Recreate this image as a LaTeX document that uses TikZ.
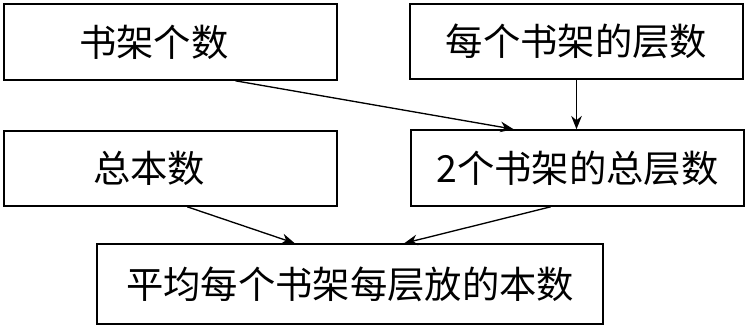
\documentclass[tikz,border=0pt]{standalone}
\usepackage{fontspec}
\newfontfamily\cjk{Noto Sans CJK SC}
\usepackage{tikz}
\usetikzlibrary{arrows.meta,calc}

\begin{document}
\begin{tikzpicture}[
    x=0.75pt, y=-0.75pt,
    box/.style={rectangle, draw=black, line width=1.2pt, inner sep=0pt, font=\cjk\fontsize{28}{30}\selectfont},
    line/.style={-{Stealth[length=10pt,width=8pt]}, line width=1pt, draw=black}
]
    \useasboundingbox (0,0) rectangle (748,329);
    \node[box, minimum width=333*0.75pt, minimum height=76*0.75pt] (shelves) at (170.5,42) {书架个数\kern25pt};
    \node[box, minimum width=333*0.75pt, minimum height=75*0.75pt] (layers) at (576.5,41.5) {每个书架的层数};
    \node[box, minimum width=333*0.75pt, minimum height=75*0.75pt] (books) at (170.5,168.5) {总本数\kern32pt};
    \node[box, minimum width=333*0.75pt, minimum height=76*0.75pt] (total) at (577.5,168) {2个书架的总层数};
    \node[box, minimum width=506*0.75pt, minimum height=80*0.75pt] (avg) at (350,284) {平均每个书架每层放的本数};

    \draw[line] ($(shelves.south west)!0.694!(shelves.south east)$) -- ($(total.north west)!0.309!(total.north east)$);
    \draw[line] (layers.south) -- (layers.south |- total.north);
    \draw[line] ($(books.south west)!0.55!(books.south east)$) -- ($(avg.north west)!0.391!(avg.north east)$);
    \draw[line] ($(total.south west)!0.42!(total.south east)$) -- ($(avg.north west)!0.607!(avg.north east)$);
\end{tikzpicture}
\end{document}
